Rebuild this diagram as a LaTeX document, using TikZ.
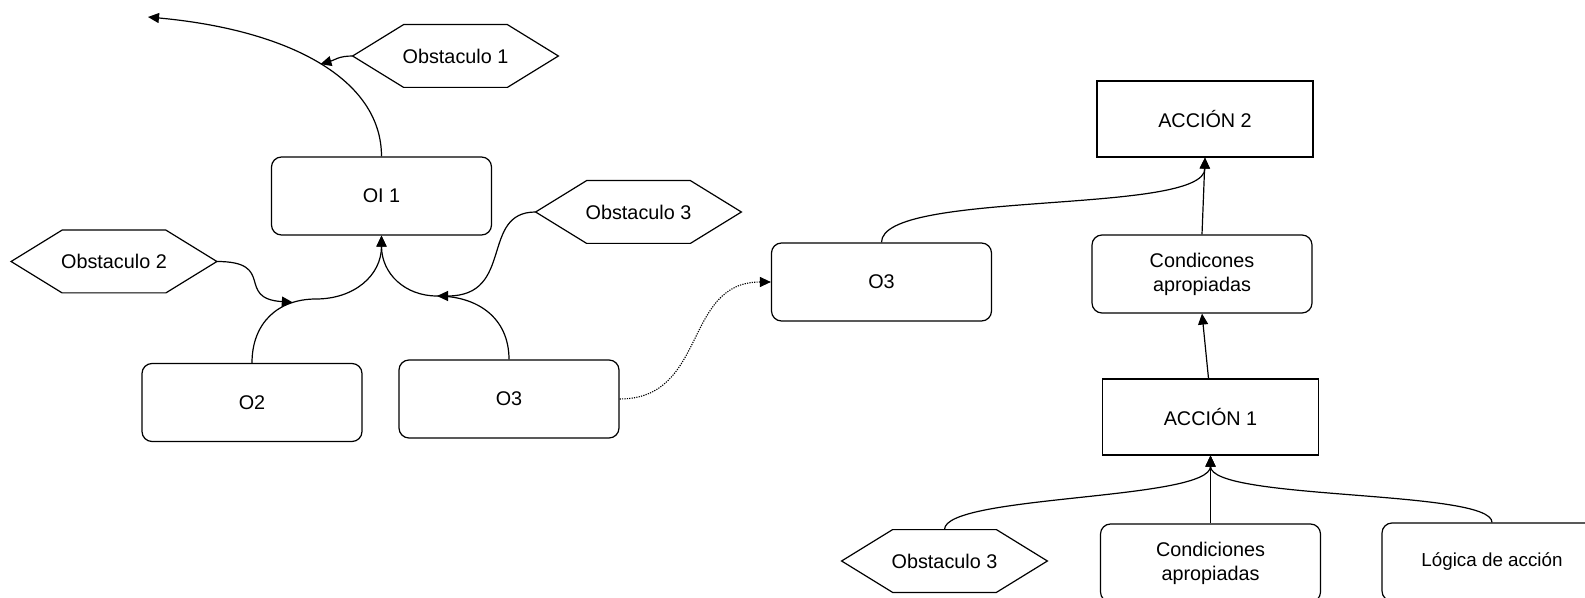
\documentclass[tikz,border=0pt]{standalone}
\usepackage{fontspec}
\setmainfont{Liberation Sans}
\usetikzlibrary{arrows.meta}
\begin{document}
\begin{tikzpicture}[x=0.5pt,y=-0.5pt,
  every node/.style={font=\fontsize{9.9}{12}\selectfont, align=center, inner sep=0pt},
  goalbox/.style={draw, line width=0.6pt, rounded corners=5pt, minimum width=110pt, minimum height=39pt},
  actbox/.style={draw, line width=0.6pt, minimum width=108pt, minimum height=38pt},
  hexbox/.style={minimum width=102.5pt, minimum height=31pt},
  arr/.style={line width=0.6pt, -{Triangle[length=5.5pt,width=5pt]}},
  dotarr/.style={line width=0.55pt, dash pattern=on 0.6pt off 0.6pt, -{Triangle[length=5.5pt,width=5pt]}},
  hexline/.style={line width=0.6pt}
]
\useasboundingbox (0,0) rectangle (1585,598);
\clip (0,0) rectangle (1585,598);

% left tree: objectives and obstacles
\node[goalbox] (oi1) at (381.5,196) {OI 1};
\node[goalbox] (o2)  at (252,402.5) {O2};
\node[goalbox] (o3a) at (509,399) {O3};
\node[hexbox] (obs1)  at (455.5,56)   {Obstaculo 1};
\node[hexbox] (obs2)  at (114,261.5)  {Obstaculo 2};
\node[hexbox] (obs3a) at (638.5,212)  {Obstaculo 3};

% right tree: objective refined into actions
\node[goalbox] (o3b)   at (881.5,282) {O3};
\node[actbox]  (acc2)  at (1205,119)  {ACCIÓN 2};
\node[goalbox] (cond1) at (1202,274)  {Condicones\\apropiadas};
\node[actbox]  (acc1)  at (1210.5,417) {ACCIÓN 1};
\node[hexbox]  (obs3b) at (944.5,561) {Obstaculo 3};
\node[goalbox] (cond2) at (1210.5,563) {Condiciones\\apropiadas};
\node[goalbox, font=\fontsize{9.4}{12}\selectfont] (logica) at (1492,562) {Lógica de acción};

% hexagon outlines for the obstacles
\foreach \h in {obs1,obs2,obs3a,obs3b}
  \draw[hexline] (\h.west) -- ([xshift=25.5pt]\h.north west) -- ([xshift=-25.5pt]\h.north east)
    -- (\h.east) -- ([xshift=-25.5pt]\h.south east) -- ([xshift=25.5pt]\h.south west) -- cycle;

% links of the left tree
\coordinate (top1) at (148,17);
\coordinate (k2) at (316,299);
\coordinate (k3) at (437,296);
\draw[arr] (oi1.north) .. controls +(0,-77) and +(142,13) .. coordinate[pos=0.49] (j1) (top1);
\draw[arr] (o2.north) .. controls +(0,-40) and +(-38,0) .. coordinate[pos=0.78] (j2) (k2)
  .. controls +(38,0) and +(0,40) .. (oi1.south);
\draw[arr] (o3a.north) .. controls +(0,-42) and +(40,0) .. (k3)
  .. controls +(-32,0) and +(0,38) .. (oi1.south);
\draw[arr] (obs1.west) .. controls +(-14,0) and +(14,-4) .. (j1);
\draw[arr] (obs2.east) .. controls +(60,0) and +(-58,-4) .. (j2);
\draw[arr] (obs3a.west) .. controls +(-56,0) and +(78,0) .. (k3);

% refinement link between the two trees
\draw[dotarr] (o3a.east) .. controls +(88,0) and +(-88,0) .. (o3b.west);

% links of the right tree
\draw[arr] (o3b.north) .. controls +(0,-53) and +(0,58) .. (acc2.south);
\draw[arr] (cond1.north) -- (acc2.south);
\draw[arr] ([xshift=-1pt]acc1.north) -- (cond1.south);
\draw[arr] (obs3b.north) .. controls +(0,-35) and +(0,45) .. (acc1.south);
\draw[arr] (logica.north) .. controls +(0,-33) and +(0,45) .. (acc1.south);
\draw[arr] (cond2.north) -- (acc1.south);
\end{tikzpicture}
\end{document}
